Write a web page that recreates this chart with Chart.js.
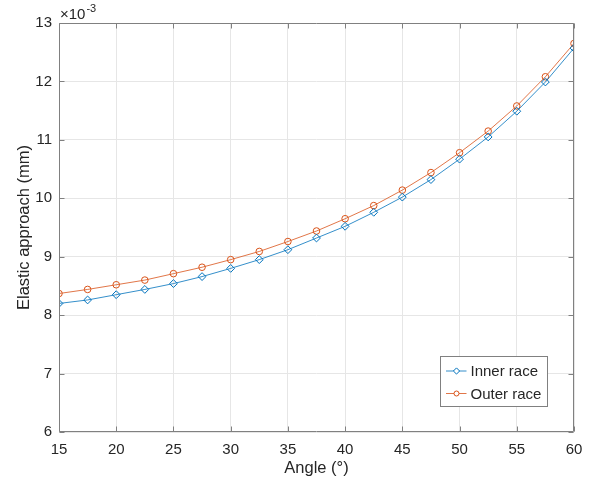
<!DOCTYPE html>
<html><head><meta charset="utf-8">
<script src="https://cdn.jsdelivr.net/npm/chart.js@4/dist/chart.umd.min.js"></script>
<style>html,body{margin:0;padding:0;background:#fff}</style>
</head><body>
<canvas id="c" width="594" height="483"></canvas>
<script>
const angles = [15, 17.5, 20, 22.5, 25, 27.5, 30, 32.5, 35, 37.5, 40, 42.5, 45, 47.5, 50, 52.5, 55, 57.5, 60];
const innerRace = [8.20, 8.26, 8.35, 8.44, 8.54, 8.66, 8.80, 8.95, 9.12, 9.32, 9.52, 9.76, 10.02, 10.32, 10.67, 11.05, 11.49, 11.99, 12.57];
const outerRace = [8.37, 8.44, 8.52, 8.60, 8.71, 8.82, 8.95, 9.09, 9.26, 9.44, 9.65, 9.875, 10.14, 10.44, 10.78, 11.15, 11.58, 12.08, 12.65];
const xTickValues = [15, 20, 25, 30, 35, 40, 45, 50, 55, 60];
const yTickValues = [6, 7, 8, 9, 10, 11, 12, 13];
const seriesNames = ['Inner race', 'Outer race'];
const xTitle = 'Angle (°)';
const yTitle = 'Elastic approach (mm)';
const yExponent = '-3';

const FONT = "'Liberation Sans', Arial, Helvetica, sans-serif";
const TXT = '#262626';
const AXIS = '#808080';
const GRID = '#e6e6e6';
const BLUE = '#0072BD';
const ORANGE = '#D95319';

const matlabPlugin = {
  id: 'matlab',
  afterDatasetsDraw(chart) {
    const ctx = chart.ctx;
    const a = chart.chartArea;
    const xs = chart.scales.x, ys = chart.scales.y;
    ctx.save();
    ctx.strokeStyle = AXIS;
    ctx.lineWidth = 1;
    const L = Math.round(a.left) + 0.5, R = Math.round(a.right) - 0.5;
    const T = Math.round(a.top) + 0.5, B = Math.round(a.bottom) - 0.5;
    ctx.beginPath();
    ctx.rect(L, T, R - L, B - T);
    ctx.stroke();
    const tl = 5;
    ctx.beginPath();
    xTickValues.forEach(v => {
      const px = Math.round(xs.getPixelForValue(v)) + 0.5;
      ctx.moveTo(px, B); ctx.lineTo(px, B - tl);
      ctx.moveTo(px, T); ctx.lineTo(px, T + tl);
    });
    yTickValues.forEach(v => {
      const py = Math.round(ys.getPixelForValue(v)) + 0.5;
      ctx.moveTo(L, py); ctx.lineTo(L + tl, py);
      ctx.moveTo(R, py); ctx.lineTo(R - tl, py);
    });
    ctx.stroke();

    // exponent label
    ctx.fillStyle = TXT;
    ctx.textBaseline = 'alphabetic';
    ctx.textAlign = 'left';
    ctx.font = '15px ' + FONT;
    const base = '\u00d710';
    ctx.fillText(base, a.left + 1, a.top - 4);
    const w = ctx.measureText(base).width;
    ctx.font = '11px ' + FONT;
    ctx.fillText(yExponent, a.left + 2 + w, a.top - 11);

    // legend
    const bw = 107, bh = 50;
    const bx = Math.round(a.right - 27 - bw) + 0.5;
    const by = Math.round(a.bottom - 26 - bh) + 0.5;
    ctx.fillStyle = '#ffffff';
    ctx.fillRect(bx, by, bw, bh);
    ctx.strokeStyle = AXIS;
    ctx.strokeRect(bx, by, bw, bh);
    chart.data.datasets.forEach((ds, i) => {
      const cy = by + 14.5 + i * 22.5;
      ctx.strokeStyle = ds.borderColor;
      ctx.lineWidth = ds.borderWidth;
      ctx.beginPath();
      ctx.moveTo(bx + 5.5, cy); ctx.lineTo(bx + 26, cy);
      ctx.stroke();
      ctx.fillStyle = '#ffffff';
      ctx.lineWidth = 1;
      Chart.helpers.drawPoint(ctx, {pointStyle: ds.pointStyle, radius: ds.pointRadius - 0.8, borderWidth: 1}, bx + 16, cy);
      ctx.fillStyle = TXT;
      ctx.font = '15px ' + FONT;
      ctx.textBaseline = 'middle';
      ctx.fillText(ds.label, bx + 30, cy + 1);
    });
    ctx.restore();
  }
};

new Chart(document.getElementById('c'), {
  type: 'line',
  data: {
    datasets: [
      { label: seriesNames[0], data: angles.map((x, i) => ({x, y: innerRace[i]})),
        borderColor: BLUE, backgroundColor: 'rgba(0,0,0,0)', borderWidth: 0.8,
        pointStyle: 'rectRot', pointRadius: 3.9, pointBorderWidth: 1,
        pointBorderColor: BLUE, pointBackgroundColor: 'rgba(0,0,0,0)', tension: 0 },
      { label: seriesNames[1], data: angles.map((x, i) => ({x, y: outerRace[i]})),
        borderColor: ORANGE, backgroundColor: 'rgba(0,0,0,0)', borderWidth: 0.8,
        pointStyle: 'circle', pointRadius: 3.3, pointBorderWidth: 1,
        pointBorderColor: ORANGE, pointBackgroundColor: 'rgba(0,0,0,0)', tension: 0 }
    ]
  },
  options: {
    responsive: false,
    animation: false,
    events: [],
    layout: { padding: { top: 23, right: 20, left: 0, bottom: 0 } },
    plugins: { legend: { display: false }, tooltip: { enabled: false } },
    scales: {
      x: {
        type: 'linear', min: 15, max: 60,
        afterBuildTicks: s => { s.ticks = xTickValues.map(v => ({value: v})); },
        afterFit: s => { s.height = 51; },
        grid: { color: GRID, drawTicks: false, lineWidth: 1 },
        border: { display: false },
        ticks: { color: TXT, font: { family: FONT, size: 15 }, padding: 9, maxRotation: 0, autoSkip: false },
        title: { display: true, text: xTitle, color: TXT, font: { family: FONT, size: 16.5 }, padding: { top: 0, bottom: 5 } }
      },
      y: {
        type: 'linear', min: 6, max: 13,
        afterBuildTicks: s => { s.ticks = yTickValues.map(v => ({value: v})); },
        afterFit: s => { s.width = 59; },
        grid: { color: GRID, drawTicks: false, lineWidth: 1 },
        border: { display: false },
        ticks: { color: TXT, font: { family: FONT, size: 15 }, padding: 7, autoSkip: false },
        title: { display: true, text: yTitle, color: TXT, font: { family: FONT, size: 16.5 }, padding: { top: 15, bottom: 0 } }
      }
    }
  },
  plugins: [matlabPlugin]
});
</script>
</body></html>
